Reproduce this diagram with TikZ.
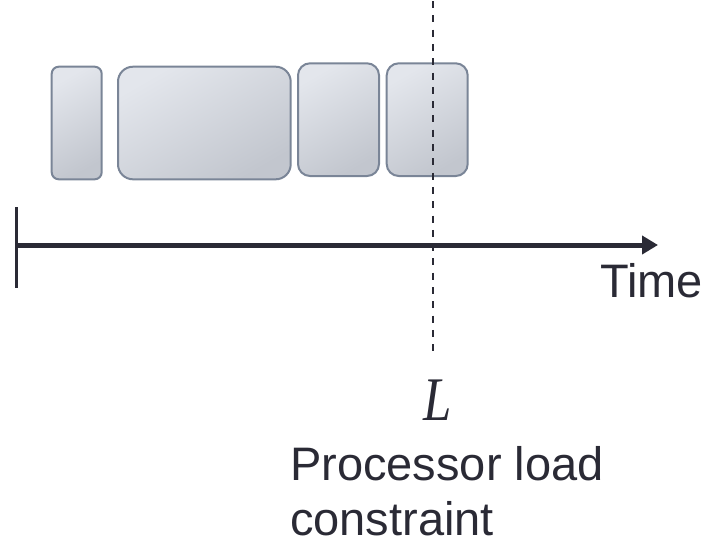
\documentclass[tikz,border=0pt]{standalone}
\usepackage{fontspec}
\setmainfont{Liberation Sans}
\newfontfamily\lfont{Liberation Serif}
\usetikzlibrary{arrows.meta}
\definecolor{boxlight}{HTML}{E3E6EC}
\definecolor{boxdark}{HTML}{C2C6CE}
\definecolor{boxedge}{HTML}{7A8597}
\definecolor{inkdark}{HTML}{2A2A35}
\tikzset{
  taskbox/.style={draw=boxedge, line width=2pt, shade, top color=boxlight, bottom color=boxdark, shading angle=30},
  axisline/.style={draw=inkdark, line width=5pt, -{Triangle[length=16pt,width=18pt]}},
  tickline/.style={draw=inkdark, line width=2.4pt},
  limitline/.style={draw=inkdark, line width=2pt, dash pattern=on 7pt off 7.3pt},
  label/.style={text=inkdark, inner sep=0pt, font=\fontsize{47}{55}\selectfont}
}
\begin{document}
\begin{tikzpicture}[x=1pt,y=-1pt]
\useasboundingbox (0,0) rectangle (708,539);
% task boxes
\path[taskbox, rounded corners=7pt] (51.7,66.7) rectangle (101.7,179.3);
\path[taskbox, rounded corners=15pt] (118,66.7) rectangle (290.7,179.3);
\path[taskbox, rounded corners=12pt] (298,63.3) rectangle (379,176);
\path[taskbox, rounded corners=12pt] (386.7,63.3) rectangle (467.7,176);
% time axis
\coordinate (t0) at (16.5,245);
\coordinate (t1) at (658,245);
\coordinate (k0) at (16.5,207);
\coordinate (k1) at (16.5,288);
\draw[axisline] (t0) -- (t1);
\draw[tickline] (k0) -- (k1);
% load constraint line
\coordinate (d0) at (433.3,1);
\coordinate (d1) at (433.3,352);
\draw[limitline] (d0) -- (d1);
% labels
\node[label, anchor=base west] (time) at (600,297) {Time};
\node[text=inkdark, inner sep=0pt, anchor=base, xscale=0.82] (L) at (438,420) {\lfont\itshape\fontsize{62}{62}\selectfont L};
\node[label, anchor=north west, align=left] (plc) at (290,446) {Processor load\\constraint};
\end{tikzpicture}
\end{document}
